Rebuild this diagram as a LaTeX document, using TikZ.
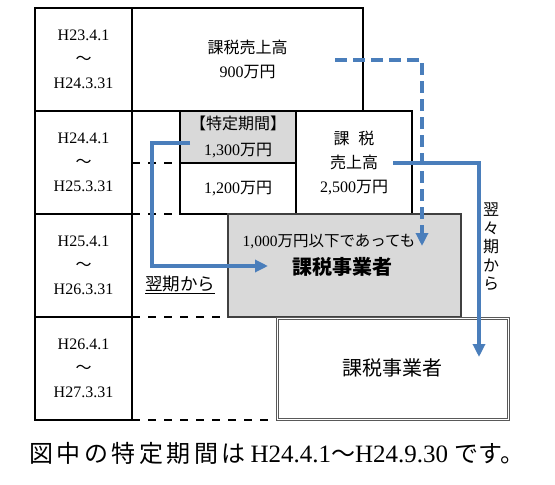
\documentclass[tikz,border=0pt]{standalone}
\usepackage{fontspec}
\setmainfont{Liberation Serif}
\newfontfamily\jp{Noto Sans CJK JP}
\usetikzlibrary{arrows.meta}
\definecolor{ablue}{RGB}{74,126,187}
\definecolor{agrey}{RGB}{217,217,217}
\newcommand\capsp{\hspace{3.5pt}}
\begin{document}
\begin{tikzpicture}[x=1pt,y=-1pt,
  cell/.style={draw=black,line width=1.6pt,rectangle,inner sep=0pt,outer sep=0pt,align=center,
    font=\fontsize{16}{24}\selectfont},
  tdash/.style={draw=black,line width=1.6pt,dash pattern=on 8pt off 8pt},
  bluearrow/.style={draw=ablue,line width=3.2pt,-{Triangle[length=13pt,width=12pt]}},
  bluedash/.style={bluearrow,dash pattern=on 12pt off 6pt},
  bigbox/.style={rectangle,inner sep=0pt,outer sep=0pt,minimum width=233pt,minimum height=103pt},
  thinframe/.style={rectangle,inner sep=0pt,outer sep=0pt,draw=black!65,line width=0.8pt}]
\useasboundingbox (0,0) rectangle (555,485);
% left column
\node[cell,minimum width=97pt,minimum height=103pt] (p1) at (83.5,59.5) {H23.4.1\\{\jp ～}\\H24.3.31};
\node[cell,minimum width=97pt,minimum height=103pt] (p2) at (83.5,162.5) {H24.4.1\\{\jp ～}\\H25.3.31};
\node[cell,minimum width=97pt,minimum height=103pt] (p3) at (83.5,265.5) {H25.4.1\\{\jp ～}\\H26.3.31};
\node[cell,minimum width=97pt,minimum height=103pt] (p4) at (83.5,368.5) {H26.4.1\\{\jp ～}\\H27.3.31};
% sales boxes
\node[cell,minimum width=231pt,minimum height=103pt] (s1) at (247.5,59.5) {{\jp 課税売上高}\\900{\jp 万円}};
\node[cell,fill=agrey,minimum width=116pt,minimum height=52pt,font=\fontsize{16}{26}\selectfont] (toku) at (238,137) {{\jp 【特定期間】}\\1,300{\jp 万円}};
\node[cell,minimum width=116pt,minimum height=51pt] (s2b) at (238,188.5) {1,200{\jp 万円}};
\node[cell,minimum width=116pt,minimum height=103pt] (s2c) at (354,162.5) {{\jp 課}\hspace{9pt}{\jp 税}\\{\jp 売上高}\\2,500{\jp 万円}};
% taxable business boxes
\node[bigbox,fill=agrey,draw=black!75,line width=1.2pt] (t1) at (344.5,265.5) {};
\node[font=\fontsize{15.5}{17}\selectfont] (t1a) at (329,242) {1,000{\jp 万円以下であっても}};
\node[font=\jp\bfseries\fontsize{20}{22}\selectfont] (t1b) at (342.5,267) {課税事業者};
\node[bigbox,thinframe] (t2) at (392.5,368.5) {};
\node[thinframe,minimum width=229pt,minimum height=99pt] (t2in) at (t2.center) {};
\node[font=\jp\fontsize{20}{22}\selectfont] (t2a) at (392.5,368) {課税事業者};
% dashed table lines
\draw[tdash] (toku.south west -| p2.east) -- (toku.south west);
\draw[tdash] (s2b.south west -| p2.east) -- (s2b.south west);
\draw[tdash] (t1.south west -| p3.east) -- (t1.south west);
\draw[tdash] (t2.south west -| p4.east) -- (t2.south west);
% blue arrows
\coordinate (a0) at (335,60);
\coordinate (a1) at (422,246);
\draw[bluedash] (a0) -| (a1);
\coordinate (b0) at (190,143);
\coordinate (bc) at (152,266);
\coordinate (b1) at (268,266);
\draw[bluearrow] (b0) -| (bc) -- (b1);
\coordinate (c0) at (393,163);
\coordinate (c1) at (479,357);
\draw[bluearrow] (c0) -| (c1);
% labels
\node[font=\jp\fontsize{17.5}{20}\selectfont,inner sep=0pt] (lab1) at (180,285) {\underline{翌期から}};
\node[font=\jp\fontsize{16}{18.5}\selectfont,align=center,inner sep=0pt] (lab2) at (491,247) {翌\\々\\期\\か\\ら};
% caption
\node[inner sep=0pt] (cap) at (276.5,453) {\jp\fontsize{24}{26}\selectfont 図\capsp 中\capsp の\capsp 特\capsp 定\capsp 期\capsp 間\capsp は\hspace{5pt}{\rmfamily\fontsize{25}{28}\selectfont H24.4.1}～{\rmfamily\fontsize{25}{28}\selectfont H24.9.30 }です。};
\end{tikzpicture}
\end{document}
